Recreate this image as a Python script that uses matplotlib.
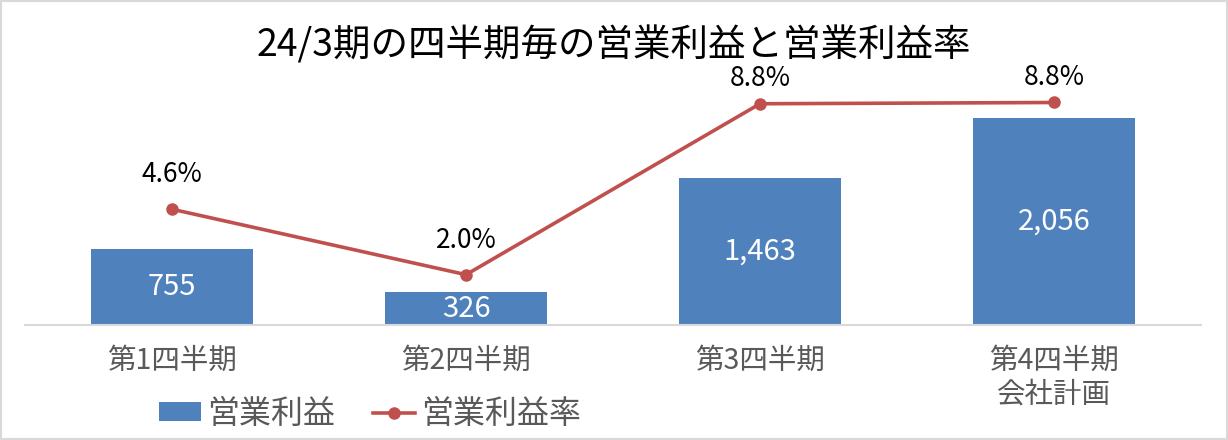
import matplotlib
matplotlib.use("Agg")
import matplotlib.pyplot as plt
from matplotlib.patches import Rectangle, Patch
from matplotlib.lines import Line2D

plt.rcParams['font.family'] = ['Noto Sans CJK JP', 'DejaVu Sans']

categories = ["第1四半期", "第2四半期", "第3四半期", "第4四半期\n会社計画"]
profit = [755, 326, 1463, 2056]
margin = [4.6, 2.0, 8.79, 8.84]
margin_labels = ["4.6%", "2.0%", "8.8%", "8.8%"]
title = "24/3期の四半期毎の営業利益と営業利益率"
legend_labels = ["営業利益", "営業利益率"]

bar_color = "#4F81BD"
line_color = "#C0504D"
text_gray = "#595959"

W, H = 1228, 440
fig = plt.figure(figsize=(W / 100, H / 100), dpi=100)
fig.patch.set_facecolor("white")

ax = fig.add_axes([25 / W, 1 - 325 / H, 1176 / W, 251.7 / H])
x = list(range(len(categories)))
bars = ax.bar(x, profit, width=0.55, color=bar_color, zorder=2)
ax.set_xlim(-0.5, len(categories) - 0.5)
ax.set_ylim(0, 2500)
ax.bar_label(bars, labels=[f"{v:,}" for v in profit], label_type="center",
             color="white", fontsize=21)
ax.set_xticks(x)
ax.set_xticklabels(categories, fontsize=20.5, color=text_gray, linespacing=1.15)
ax.tick_params(axis="x", length=0, pad=15)
ax.set_yticks([])
for s in ["left", "right", "top"]:
    ax.spines[s].set_visible(False)
ax.spines["bottom"].set_color("#d9d9d9")
ax.spines["bottom"].set_linewidth(1.5)
ax.patch.set_alpha(0)

ax2 = ax.twinx()
ax2.plot(x, margin, color=line_color, linewidth=2.6, marker="o", markersize=8, zorder=3)
ax2.set_ylim(0, 10)
ax2.set_yticks([])
for s in ax2.spines.values():
    s.set_visible(False)
label_offsets_px = [35, 34, 25, 25]
for xi, yi, lab, off in zip(x, margin, margin_labels, label_offsets_px):
    ax2.annotate(lab, (xi, yi), xytext=(0, off * 0.72), textcoords="offset points",
                 ha="center", va="center", fontsize=19, color="black")

fig.text(0.5, 1 - 46 / H, title, ha="center", va="center", fontsize=27, color="black")

handles = [Patch(facecolor=bar_color, edgecolor="none"),
           Line2D([0], [0], color=line_color, linewidth=2.6, marker="o", markersize=8)]
fig.legend(handles, legend_labels, loc="center left",
           bbox_to_anchor=(159 / W, 1 - 414 / H), ncol=2, frameon=False,
           fontsize=23, labelcolor=text_gray, handlelength=1.3, handletextpad=0.2,
           columnspacing=1.2, handleheight=0.55, borderaxespad=0, borderpad=0)

fig.patches.append(Rectangle((0, 0), 1, 1, transform=fig.transFigure, fill=False,
                             edgecolor="#d9d9d9", linewidth=3, zorder=10))

fig.savefig("out.png", dpi=100)
